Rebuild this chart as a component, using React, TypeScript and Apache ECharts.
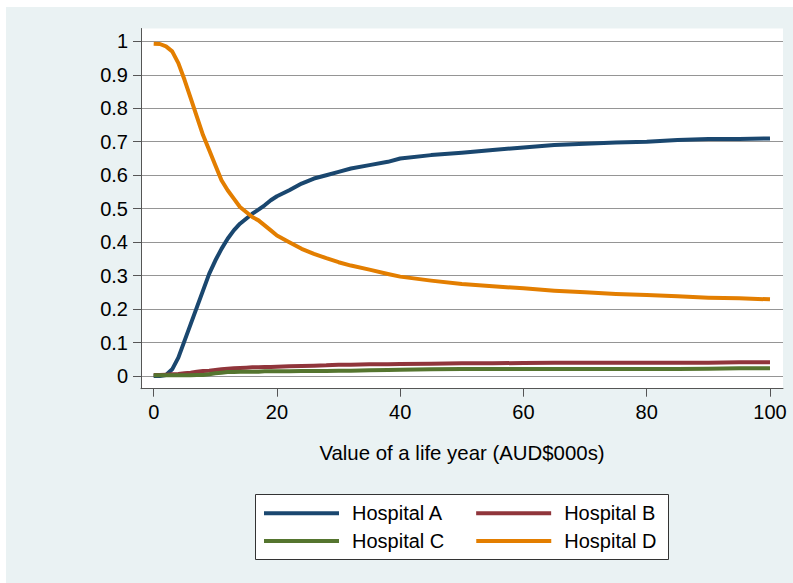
import React, { useEffect, useRef } from "react";
import * as echarts from "echarts";

const xValues = [0,1,2,3,4,5,6,7,8,9,10,11,12,13,14,15,16,17,18,19,20,22,24,26,28,30,32,35,38,40,45,50,55,60,65,70,75,80,85,90,95,100];

const hospitalA = [0,0,0.003,0.02,0.055,0.105,0.155,0.205,0.255,0.305,0.345,0.38,0.41,0.435,0.455,0.47,0.485,0.497,0.51,0.525,0.537,0.555,0.575,0.59,0.6,0.61,0.62,0.63,0.64,0.65,0.66,0.667,0.675,0.683,0.69,0.694,0.698,0.7,0.705,0.708,0.708,0.71];

const hospitalB = [0.003,0.003,0.004,0.005,0.006,0.008,0.01,0.013,0.015,0.016,0.018,0.02,0.022,0.023,0.024,0.025,0.026,0.026,0.027,0.027,0.028,0.029,0.03,0.031,0.032,0.034,0.034,0.035,0.035,0.036,0.037,0.038,0.038,0.039,0.04,0.04,0.04,0.04,0.04,0.04,0.041,0.041];

const hospitalC = [0.002,0.002,0.002,0.002,0.002,0.002,0.002,0.003,0.003,0.005,0.008,0.01,0.012,0.012,0.013,0.013,0.013,0.013,0.014,0.014,0.014,0.014,0.015,0.015,0.015,0.016,0.016,0.017,0.018,0.019,0.02,0.021,0.021,0.021,0.021,0.021,0.021,0.021,0.021,0.022,0.023,0.023];

const hospitalD = [0.993,0.992,0.985,0.97,0.935,0.885,0.83,0.775,0.72,0.675,0.63,0.585,0.555,0.53,0.505,0.49,0.475,0.465,0.45,0.435,0.42,0.4,0.38,0.365,0.352,0.34,0.33,0.318,0.305,0.297,0.285,0.275,0.268,0.262,0.255,0.25,0.245,0.242,0.238,0.234,0.232,0.229];

const seriesNames = ["Hospital A", "Hospital B", "Hospital C", "Hospital D"];
const seriesColors = ["#1a476f", "#90353b", "#55752f", "#e37e00"];
const seriesValues = [hospitalA, hospitalB, hospitalC, hospitalD];

const xTickValues = { min: 0, max: 100, interval: 20 };
const yTickValues = { min: 0, max: 1, interval: 0.1 };
const xAxisTitle = "Value of a life year (AUD$000s)";

const FONT = "'Liberation Sans', Arial, Helvetica, sans-serif";

export default function App() {
  const ref = useRef<HTMLDivElement>(null);
  useEffect(() => {
    if (!ref.current) return;
    const chart = echarts.init(ref.current, undefined, { renderer: "svg" });
    const axisColor = "#555555";
    const legendCommon = {
      show: true,
      orient: "horizontal" as const,
      left: 264,
      padding: 0,
      itemWidth: 75,
      itemHeight: 4,
      icon: "rect",
      itemGap: 33,
      selectedMode: false,
      textStyle: { fontSize: 20, color: "#000", fontFamily: FONT, lineHeight: 22, padding: [0, 0, 0, 8] },
    };
    chart.setOption({
      animation: false,
      backgroundColor: "#EAF2F3",
      textStyle: { fontFamily: FONT },
      graphic: [
        { type: "rect", z: 0, shape: { x: 0, y: 0, width: 793, height: 7 }, style: { fill: "#fff" } },
        { type: "rect", z: 0, shape: { x: 0, y: 0, width: 6, height: 583 }, style: { fill: "#fff" } },
        { type: "rect", z: 1, shape: { x: 255.5, y: 494.5, width: 413, height: 65 }, style: { fill: "#fff", stroke: "#333", lineWidth: 1 } },
      ],
      grid: [
        { left: 141, right: 10, top: 28.5, bottom: 194.3, show: true, backgroundColor: "#fff", borderWidth: 0 },
        { left: 141, right: 10, top: 41.3, bottom: 207 },
        { left: 153.7, right: 23, top: 28.5, bottom: 194.3 },
      ],
      xAxis: [
        {
          gridIndex: 0, type: "value", min: -2.06, max: 102.11,
          axisLine: { show: true, onZero: false, lineStyle: { color: axisColor, width: 1 } },
          axisTick: { show: false }, axisLabel: { show: false }, splitLine: { show: false },
          name: xAxisTitle, nameLocation: "middle", nameGap: 54,
          nameTextStyle: { fontSize: 20.4, color: "#000", fontFamily: FONT },
        },
        { gridIndex: 1, type: "value", min: -2.06, max: 102.11, show: false },
        {
          gridIndex: 2, type: "value", min: xTickValues.min, max: xTickValues.max, interval: xTickValues.interval,
          axisLine: { show: false, onZero: false },
          axisTick: { show: true, length: 8, lineStyle: { color: axisColor } },
          axisLabel: { show: true, margin: 13, fontSize: 20, color: "#000", fontFamily: FONT },
          splitLine: { show: false },
        },
      ],
      yAxis: [
        {
          gridIndex: 0, type: "value", min: -0.0379, max: 1.0383,
          axisLine: { show: true, onZero: false, lineStyle: { color: axisColor, width: 1 } },
          axisTick: { show: false }, axisLabel: { show: false }, splitLine: { show: false },
        },
        {
          gridIndex: 1, type: "value", min: yTickValues.min, max: yTickValues.max, interval: yTickValues.interval,
          axisLine: { show: false, onZero: false },
          axisTick: { show: true, length: 8, lineStyle: { color: axisColor } },
          axisLabel: {
            show: true, margin: 13, fontSize: 20, color: "#000", fontFamily: FONT,
            formatter: (v: number) => String(Math.round(v * 10) / 10),
          },
          splitLine: { show: true, lineStyle: { color: "#959595", width: 1 } },
        },
        { gridIndex: 2, type: "value", min: 0, max: 1, show: false },
      ],
      legend: [
        { ...legendCommon, top: 502.3, data: [seriesNames[0], seriesNames[1]] },
        { ...legendCommon, top: 530, itemGap: 32, data: [seriesNames[2], seriesNames[3]] },
      ],
      series: seriesNames.map((name, i) => ({
        name,
        type: "line",
        xAxisIndex: 0,
        yAxisIndex: 0,
        showSymbol: false,
        symbol: "none",
        color: seriesColors[i],
        lineStyle: { color: seriesColors[i], width: 4, join: "round", cap: "butt" },
        itemStyle: { color: seriesColors[i] },
        z: 3 + i,
        data: xValues.map((x, j) => [x, seriesValues[i][j]]),
      })),
    });
    return () => chart.dispose();
  }, []);
  return (
    <div
      ref={ref}
      style={{ position: "absolute", left: 0, top: 0, width: 793, height: 583 }}
    />
  );
}
